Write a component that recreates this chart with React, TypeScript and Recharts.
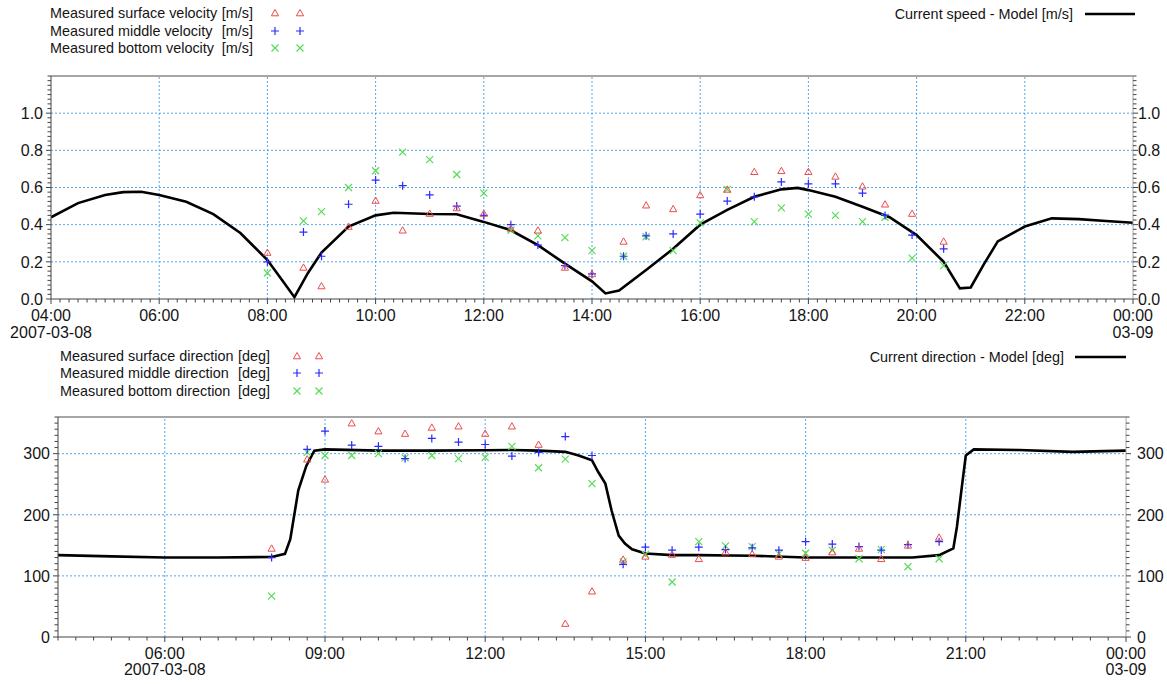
import React from 'react'
import { ComposedChart, Line, Scatter, XAxis, YAxis, ReferenceLine } from 'recharts'

const FONT = '"Liberation Sans", Arial, sans-serif'
const INK = '#151515'
const AXIS = '#444'
const FRAME = '#a6a6a6'
const GRID = '#56a6e6'
const RED = '#ec4c4c'
const BLUE = '#2a2aff'
const GREEN = '#55dd55'

// times are minutes after midnight of 2007-03-08
const measTime = [480, 520, 540, 570, 600, 630, 660, 690, 720, 750, 780, 810, 840, 875, 900, 930, 960, 990, 1020, 1050, 1080, 1110, 1140, 1165, 1195, 1230]

const surfVel = [0.25, 0.17, 0.07, 0.39, 0.53, 0.37, 0.46, 0.49, 0.46, 0.38, 0.37, 0.17, 0.135, 0.31, 0.505, 0.485, 0.56, 0.59, 0.685, 0.69, 0.685, 0.66, 0.607, 0.51, 0.46, 0.31]
const midVel = [0.2, 0.36, 0.23, 0.51, 0.64, 0.61, 0.56, 0.5, 0.45, 0.4, 0.29, 0.18, 0.135, 0.23, 0.34, 0.35, 0.457, 0.527, 0.55, 0.63, 0.62, 0.62, 0.57, 0.45, 0.344, 0.27]
const botVel = [0.14, 0.42, 0.47, 0.6, 0.69, 0.79, 0.75, 0.67, 0.57, 0.37, 0.34, 0.33, 0.26, 0.23, 0.335, 0.26, 0.41, 0.59, 0.416, 0.49, 0.457, 0.45, 0.416, 0.44, 0.22, 0.18]

const speedModelTime = [240, 270, 300, 320, 340, 360, 390, 420, 450, 480, 495, 510, 525, 540, 570, 600, 620, 660, 690, 720, 750, 780, 810, 840, 855, 870, 900, 930, 960, 990, 1020, 1050, 1068, 1080, 1110, 1140, 1170, 1200, 1230, 1248, 1260, 1275, 1290, 1320, 1350, 1380, 1410, 1440]
const speedModel = [0.44, 0.516, 0.56, 0.575, 0.577, 0.56, 0.523, 0.457, 0.355, 0.21, 0.11, 0.01, 0.14, 0.25, 0.39, 0.45, 0.464, 0.457, 0.456, 0.415, 0.37, 0.29, 0.19, 0.095, 0.03, 0.045, 0.156, 0.27, 0.4, 0.48, 0.55, 0.59, 0.598, 0.586, 0.55, 0.496, 0.44, 0.344, 0.2, 0.057, 0.062, 0.19, 0.31, 0.39, 0.434, 0.43, 0.42, 0.41]

const surfDir = [145, 291, 258, 350, 337, 333, 343, 345, 333, 345, 315, 22, 75, 127, 132, 135, 128, 139, 136, 132, 130, 139, 145, 128, 150, 163]
const midDir = [130, 307, 337, 314, 312, 292, 325, 319, 315, 296, 302, 328, 297, 119, 147, 142, 147, 143, 146, 142, 156, 152, 148, 142, 151, 156]
const botDir = [67, 302, 297, 297, 300, 293, 297, 292, 294, 312, 277, 291, 251, 123, 135, 90, 156, 149, 148, 136, 137, 142, 128, 143, 115, 128]

const dirModelTime = [240, 300, 360, 420, 480, 495, 501, 510, 519, 528, 540, 600, 660, 720, 750, 780, 810, 825, 840, 847, 855, 862, 870, 877, 885, 900, 930, 960, 1020, 1080, 1140, 1200, 1230, 1246, 1250, 1256, 1260, 1269, 1320, 1380, 1440]
const dirModel = [134, 132, 130, 130, 131, 136, 160, 240, 280, 305, 307, 305, 305, 305.6, 306, 305, 303, 297, 289, 270, 251, 207, 166, 153, 143.5, 136.5, 134, 134, 133, 130, 130, 130, 134, 145, 180, 251, 297, 307, 306, 303, 305]

const speedTicks = [0, 0.2, 0.4, 0.6, 0.8, 1.0]
const dirTicks = [0, 100, 200, 300]
const speedTimeTicks = [240, 360, 480, 600, 720, 840, 960, 1080, 1200, 1320, 1440]
const dirTimeTicks = [360, 540, 720, 900, 1080, 1260, 1440]
const startDate = '2007-03-08'
const endDate = '03-09'

const velLabels = ['Measured surface velocity', 'Measured middle velocity', 'Measured bottom velocity']
const dirLabels = ['Measured surface direction', 'Measured middle direction', 'Measured bottom direction']
const speedModelLabel = 'Current speed - Model [m/s]'
const dirModelLabel = 'Current direction - Model [deg]'

const pts = (t: number[], v: number[]) => t.map((x, i) => ({ t: x, v: v[i] }))
const steps = (from: number, to: number, step: number) => {
  const out: number[] = []
  for (let k = 0; from + k * step <= to + 1e-9; k++) out.push(+(from + k * step).toFixed(4))
  return out
}
const isIn = (arr: number[], v: number) => arr.some(a => Math.abs(a - v) < 1e-6)

const hhmm = (m: number) => {
  const h = Math.floor(m / 60) % 24
  return `${String(h).padStart(2, '0')}:${String(m % 60).padStart(2, '0')}`
}

const textStyle = { fontFamily: FONT, fontSize: 16, fill: INK }

const timeTick = (majors: number[], first: number, labelDy: number, dateDy: number) => (p: any) => {
  const v = p.payload.value
  const major = isIn(majors, v)
  return (
    <g>
      <line x1={p.x} x2={p.x} y1={p.y} y2={p.y + (major ? 5 : 3.5)} stroke={AXIS} />
      {major && <text x={p.x} y={p.y + labelDy} textAnchor="middle" style={textStyle}>{hhmm(v)}</text>}
      {v === first && <text x={p.x} y={p.y + dateDy} textAnchor="middle" style={textStyle}>{startDate}</text>}
      {v === 1440 && <text x={p.x} y={p.y + dateDy} textAnchor="middle" style={textStyle}>{endDate}</text>}
    </g>
  )
}

const valueTick = (majors: number[], side: 'left' | 'right', gap: number, digits: number) => (p: any) => {
  const v = p.payload.value
  const major = isIn(majors, v)
  const s = side === 'left' ? -1 : 1
  return (
    <g>
      <line x1={p.x} x2={p.x + s * (major ? 5 : 3.5)} y1={p.y} y2={p.y} stroke={AXIS} />
      {major && (
        <text x={p.x + s * gap} y={p.y} dy="0.36em" textAnchor={side === 'left' ? 'end' : 'start'} style={textStyle}>
          {v.toFixed(digits)}
        </text>
      )}
    </g>
  )
}

const Tri = (p: any) => (
  <path d={`M${p.cx},${p.cy - 3.5}L${p.cx + 3.6},${p.cy + 2.8}L${p.cx - 3.6},${p.cy + 2.8}Z`} fill="none" stroke={RED} strokeWidth={1} />
)
const Plus = (p: any) => (
  <path d={`M${p.cx - 4},${p.cy}H${p.cx + 4}M${p.cx},${p.cy - 4}V${p.cy + 4}`} stroke={BLUE} strokeWidth={1.2} />
)
const Cross = (p: any) => (
  <path d={`M${p.cx - 3.5},${p.cy - 3.5}L${p.cx + 3.5},${p.cy + 3.5}M${p.cx - 3.5},${p.cy + 3.5}L${p.cx + 3.5},${p.cy - 3.5}`} stroke={GREEN} strokeWidth={1.2} />
)

function Panel(props: {
  height: number; top: number; leftW: number; rightW: number; xH: number
  yMax: number; yMajors: number[]; yMinor: number; digits: number; rightGap: number
  xMajors: number[]; xMinor: number; firstLabel: number; labelDy: number; dateDy: number
  surf: number[]; mid: number[]; bot: number[]; modelT: number[]; model: number[]
}) {
  const p = props
  const xTicks = steps(240, 1440, p.xMinor)
  const yTicks = steps(0, p.yMax, p.yMinor)
  return (
    <ComposedChart width={1167} height={p.height} margin={{ top: p.top, right: 0, bottom: 0, left: 0 }}>
      <XAxis
        xAxisId="x" type="number" dataKey="t" domain={[240, 1440]} allowDataOverflow
        ticks={xTicks} interval={0} height={p.xH} tickLine={false} tickSize={0} tickMargin={0}
        stroke={AXIS} tick={timeTick(p.xMajors, p.firstLabel, p.labelDy, p.dateDy)}
      />
      <YAxis
        yAxisId="l" orientation="left" type="number" dataKey="v" domain={[0, p.yMax]} allowDataOverflow
        ticks={yTicks} interval={0} width={p.leftW} tickLine={false} tickSize={0} tickMargin={0}
        stroke={AXIS} tick={valueTick(p.yMajors, 'left', 8, p.digits)}
      />
      <YAxis
        yAxisId="r" orientation="right" type="number" dataKey="v" domain={[0, p.yMax]} allowDataOverflow
        ticks={yTicks} interval={0} width={p.rightW} tickLine={false} tickSize={0} tickMargin={0}
        stroke={FRAME} tick={valueTick(p.yMajors, 'right', p.rightGap, p.digits)}
      />
      {p.xMajors.filter(v => v > 240 && v < 1440).map(v => (
        <ReferenceLine key={'gx' + v} xAxisId="x" yAxisId="l" x={v} stroke={GRID} strokeDasharray="2 2" />
      ))}
      {p.yMajors.filter(v => v > 0).map(v => (
        <ReferenceLine key={'gy' + v} xAxisId="x" yAxisId="l" y={v} stroke={GRID} strokeDasharray="2 2" />
      ))}
      <ReferenceLine xAxisId="x" yAxisId="l" y={p.yMax} stroke={FRAME} strokeWidth={2} />
      <Scatter xAxisId="x" yAxisId="l" data={pts(measTime, p.bot)} shape={Cross} isAnimationActive={false} />
      <Scatter xAxisId="x" yAxisId="l" data={pts(measTime, p.mid)} shape={Plus} isAnimationActive={false} />
      <Scatter xAxisId="x" yAxisId="l" data={pts(measTime, p.surf)} shape={Tri} isAnimationActive={false} />
      <Line
        xAxisId="x" yAxisId="l" data={pts(p.modelT, p.model)} dataKey="v" type="linear"
        stroke="#000" strokeWidth={2.6} dot={false} isAnimationActive={false}
      />
    </ComposedChart>
  )
}

function Legends() {
  const lt = { fontFamily: FONT, fontSize: 14.4, fill: INK }
  const mark = (kind: number, x: number, y: number) =>
    kind === 0 ? <Tri cx={x} cy={y} /> : kind === 1 ? <Plus cx={x} cy={y} /> : <Cross cx={x} cy={y} />
  const block = (labels: string[], unit: string, left: number, unitRight: number, ys: number[], mx: number[]) =>
    labels.map((l, i) => (
      <g key={l}>
        <text x={left} y={ys[i]} dy="0.36em" style={lt}>{l}</text>
        <text x={unitRight} y={ys[i]} dy="0.36em" textAnchor="end" style={lt}>{unit}</text>
        {mx.map(x => <g key={x}>{mark(i, x, ys[i])}</g>)}
      </g>
    ))
  return (
    <svg width={1167} height={684} style={{ position: 'absolute', left: 0, top: 0, pointerEvents: 'none' }}>
      {block(velLabels, '[m/s]', 50, 253, [13, 31, 48], [275, 300])}
      {block(dirLabels, '[deg]', 60, 270, [356, 373, 391], [297, 319])}
      <text x={1073} y={14} dy="0.36em" textAnchor="end" style={lt}>{speedModelLabel}</text>
      <line x1={1085} x2={1135} y1={14} y2={14} stroke="#000" strokeWidth={2.6} />
      <text x={1064} y={357} dy="0.36em" textAnchor="end" style={lt}>{dirModelLabel}</text>
      <line x1={1075} x2={1126} y1={357} y2={357} stroke="#000" strokeWidth={2.6} />
    </svg>
  )
}

export default function App() {
  return (
    <div style={{ position: 'absolute', left: 0, top: 0, width: 1167, height: 684, background: '#fff', overflow: 'hidden' }}>
      <div style={{ position: 'absolute', left: 0, top: 0 }}>
        <Panel
          height={345} top={76} leftW={51} rightW={34} xH={46}
          yMax={1.2} yMajors={speedTicks} yMinor={0.025} digits={1} rightGap={5}
          xMajors={speedTimeTicks} xMinor={10} firstLabel={240} labelDy={22} dateDy={39}
          surf={surfVel} mid={midVel} bot={botVel} modelT={speedModelTime} model={speedModel}
        />
      </div>
      <div style={{ position: 'absolute', left: 0, top: 340 }}>
        <Panel
          height={344} top={77} leftW={58} rightW={41} xH={47}
          yMax={360} yMajors={dirTicks} yMinor={10} digits={0} rightGap={11}
          xMajors={dirTimeTicks} xMinor={20} firstLabel={360} labelDy={22} dateDy={38}
          surf={surfDir} mid={midDir} bot={botDir} modelT={dirModelTime} model={dirModel}
        />
      </div>
      <Legends />
    </div>
  )
}
